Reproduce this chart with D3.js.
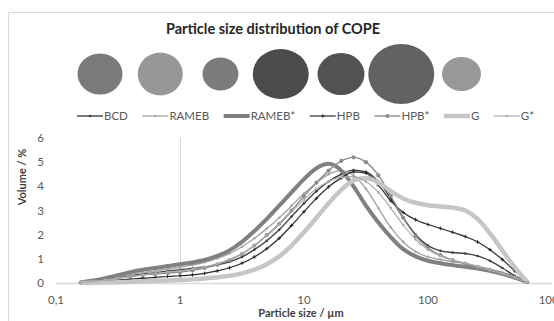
<!DOCTYPE html>
<head>
    <meta charset="utf-8">
    <title>Particle size distribution of COPE</title>
    <style>
        body { margin: 0; background: #fff; }
        text { font-family: Lato, "Open Sans", sans-serif; fill: #595959; }
    </style>
    <script src="https://d3js.org/d3.v7.min.js"></script>
</head>
<body>
    <script>
        // sizes (µm), 10 per decade
        var sizes = d3.range(-8, 29).map(k => +Math.pow(10, k / 10).toPrecision(3));

        var seriesNames = ["BCD", "RAMEB", "RAMEB*", "HPB", "HPB*", "G", "G*"];

        var bcd = [0.02,0.07,0.14,0.22,0.30,0.37,0.43,0.49,0.55,0.60,0.66,0.75,0.88,1.08,1.38,1.75,2.20,2.75,3.30,3.80,4.20,4.50,4.67,4.60,4.20,3.50,2.70,2.00,1.55,1.33,1.26,1.22,1.12,0.92,0.62,0.30,0.03];
        var rameb = [0.02,0.07,0.15,0.25,0.35,0.43,0.50,0.57,0.65,0.74,0.86,1.02,1.22,1.50,1.85,2.25,2.70,3.20,3.70,4.15,4.50,4.65,4.45,3.90,3.10,2.30,1.70,1.30,1.08,0.97,0.88,0.80,0.70,0.57,0.42,0.24,0.03];
        var ramebS = [0.03,0.10,0.20,0.32,0.45,0.55,0.62,0.70,0.78,0.85,0.95,1.12,1.35,1.70,2.15,2.65,3.20,3.75,4.30,4.75,4.93,4.65,4.00,3.20,2.50,1.90,1.40,1.10,0.92,0.82,0.74,0.67,0.60,0.50,0.38,0.22,0.03];
        var hpb = [0.01,0.04,0.08,0.12,0.16,0.20,0.23,0.27,0.30,0.34,0.40,0.50,0.63,0.82,1.08,1.42,1.85,2.38,2.95,3.50,3.98,4.35,4.60,4.55,4.05,3.40,2.92,2.62,2.42,2.26,2.10,1.92,1.70,1.38,0.97,0.50,0.05];
        var hpbS = [0.02,0.06,0.12,0.20,0.27,0.33,0.37,0.41,0.45,0.52,0.62,0.76,0.95,1.20,1.55,1.98,2.45,3.00,3.60,4.15,4.65,5.05,5.20,5.00,4.45,3.60,2.70,1.95,1.45,1.15,0.95,0.80,0.65,0.52,0.38,0.22,0.03];
        var g = [0.00,0.01,0.02,0.03,0.05,0.07,0.09,0.10,0.12,0.15,0.19,0.24,0.30,0.40,0.55,0.78,1.10,1.55,2.10,2.70,3.30,3.85,4.25,4.35,4.15,3.80,3.50,3.32,3.22,3.17,3.12,3.00,2.65,2.05,1.35,0.65,0.05];
        var gS = [0.02,0.06,0.12,0.20,0.27,0.34,0.40,0.45,0.50,0.57,0.66,0.80,0.98,1.22,1.55,1.95,2.42,2.95,3.45,3.90,4.20,4.38,4.40,4.20,3.75,3.10,2.40,1.80,1.38,1.12,0.95,0.82,0.68,0.54,0.40,0.23,0.03];

        var xTicks = [0.1, 1, 10, 100, 1000];
        var yTicks = [0, 1, 2, 3, 4, 5, 6];

        var values = [bcd, rameb, ramebS, hpb, hpbS, g, gS];

        // look of each series
        var styles = {
            "BCD":    { color: "#404040", width: 1.4, marker: "dot" },
            "RAMEB":  { color: "#a6a6a6", width: 1.4, marker: "dot" },
            "RAMEB*": { color: "#808080", width: 4,   marker: null },
            "HPB":    { color: "#2b2b2b", width: 1.2, marker: "plus" },
            "HPB*":   { color: "#8c8c8c", width: 1.4, marker: "circle" },
            "G":      { color: "#c6c6c6", width: 4.5, marker: null },
            "G*":     { color: "#ababab", width: 1.2, marker: "dot" }
        };
        // particle pictures above the legend
        var blobs = {
            "BCD":    { w: 45, h: 41, fill: "#7a7a7a" },
            "RAMEB":  { w: 45, h: 43, fill: "#979797" },
            "RAMEB*": { w: 36, h: 33, fill: "#7c7c7c" },
            "HPB":    { w: 56, h: 50, fill: "#4b4b4b" },
            "HPB*":   { w: 47, h: 42, fill: "#525252" },
            "G":      { w: 66, h: 60, fill: "#626262" },
            "G*":     { w: 39, h: 34, fill: "#989898" }
        };

        var width = 554, height = 321;

        var svg = d3.select("body").append("svg")
            .attr("width", width)
            .attr("height", height);

        svg.append("rect")
            .attr("x", 8.5).attr("y", 12.5)
            .attr("width", 560).attr("height", 320)
            .attr("fill", "#fff")
            .attr("stroke", "#d9d9d9");

        svg.append("text")
            .attr("x", 273).attr("y", 34)
            .attr("text-anchor", "middle")
            .style("font-size", "14.5px")
            .style("font-weight", "bold")
            .style("fill", "#262626")
            .text("Particle size distribution of COPE");

        // blobs
        var bx = d3.scalePoint().domain(seriesNames).range([100, 461.5]);
        svg.append("g").selectAll("ellipse")
            .data(seriesNames)
            .enter().append("ellipse")
            .attr("cx", d => bx(d))
            .attr("cy", 74)
            .attr("rx", d => blobs[d].w / 2)
            .attr("ry", d => blobs[d].h / 2)
            .attr("fill", d => blobs[d].fill);

        var x = d3.scaleLog().domain([0.1, 1000]).range([56, 552]);
        var y = d3.scaleLinear().domain([0, 6]).range([283, 138]);

        // axes
        svg.append("line")
            .attr("x1", x(0.1)).attr("x2", x(1000))
            .attr("y1", y(0) + 0.5).attr("y2", y(0) + 0.5)
            .attr("stroke", "#d9d9d9").attr("stroke-width", 1.5);
        svg.append("line")
            .attr("x1", x(1) + 0.5).attr("x2", x(1) + 0.5)
            .attr("y1", y(6)).attr("y2", y(0))
            .attr("stroke", "#d9d9d9");

        svg.append("g").selectAll("text")
            .data(yTicks)
            .enter().append("text")
            .attr("x", 44).attr("y", d => y(d) + 4)
            .attr("text-anchor", "end")
            .style("font-size", "11.5px")
            .text(d => d);

        svg.append("g").selectAll("text")
            .data(xTicks)
            .enter().append("text")
            .attr("x", d => x(d)).attr("y", 304)
            .attr("text-anchor", "middle")
            .style("font-size", "11.5px")
            .text(d => String(d).replace(".", ","));

        svg.append("text")
            .attr("x", 301).attr("y", 317)
            .attr("text-anchor", "middle")
            .style("font-size", "11px")
            .style("font-weight", "bold")
            .style("fill", "#404040")
            .text("Particle size / µm");

        svg.append("text")
            .attr("transform", "translate(26,177) rotate(-90)")
            .attr("text-anchor", "middle")
            .style("font-size", "11px")
            .style("font-weight", "bold")
            .style("fill", "#404040")
            .text("Volume / %");

        var line = d3.line()
            .x(d => x(d[0]))
            .y(d => y(d[1]))
            .curve(d3.curveMonotoneX);

        function drawMarker(sel, type, color) {
            if (type === "dot") {
                sel.append("circle").attr("r", 1.3).attr("fill", color);
            } else if (type === "circle") {
                sel.append("circle").attr("r", 2.1).attr("fill", color);
            } else if (type === "plus") {
                sel.append("path").attr("d", "M-1.8,0H1.8M0,-1.8V1.8")
                    .attr("stroke", color).attr("stroke-width", 1);
            }
        }

        var plot = svg.append("g");
        seriesNames.forEach(function (name, i) {
            var st = styles[name];
            var pts = sizes.map((s, j) => [s, values[i][j]]);
            var sg = plot.append("g");
            sg.append("path")
                .attr("d", line(pts))
                .attr("fill", "none")
                .attr("stroke", st.color)
                .attr("stroke-width", st.width)
                .attr("stroke-linejoin", "round");
            if (st.marker) {
                sg.selectAll("g")
                    .data(pts)
                    .enter().append("g")
                    .attr("transform", d => "translate(" + x(d[0]) + "," + y(d[1]) + ")")
                    .each(function () { drawMarker(d3.select(this), st.marker, st.color); });
            }
        });

        // legend
        var legend = svg.append("g");
        var lx = 0;
        seriesNames.forEach(function (name) {
            var st = styles[name];
            var item = legend.append("g").attr("transform", "translate(" + lx + ",0)");
            item.append("line")
                .attr("x1", 0).attr("x2", 26)
                .attr("y1", 0).attr("y2", 0)
                .attr("stroke", st.color)
                .attr("stroke-width", st.width);
            if (st.marker) {
                var m = item.append("g").attr("transform", "translate(13,0)");
                drawMarker(m, st.marker, st.color);
            }
            var t = item.append("text")
                .attr("x", 27).attr("y", 4)
                .style("font-size", "11.5px")
                .text(name);
            lx += 27 + t.node().getComputedTextLength() + 14.5;
        });
        legend.attr("transform", "translate(77,116)");
    </script>
</body>
